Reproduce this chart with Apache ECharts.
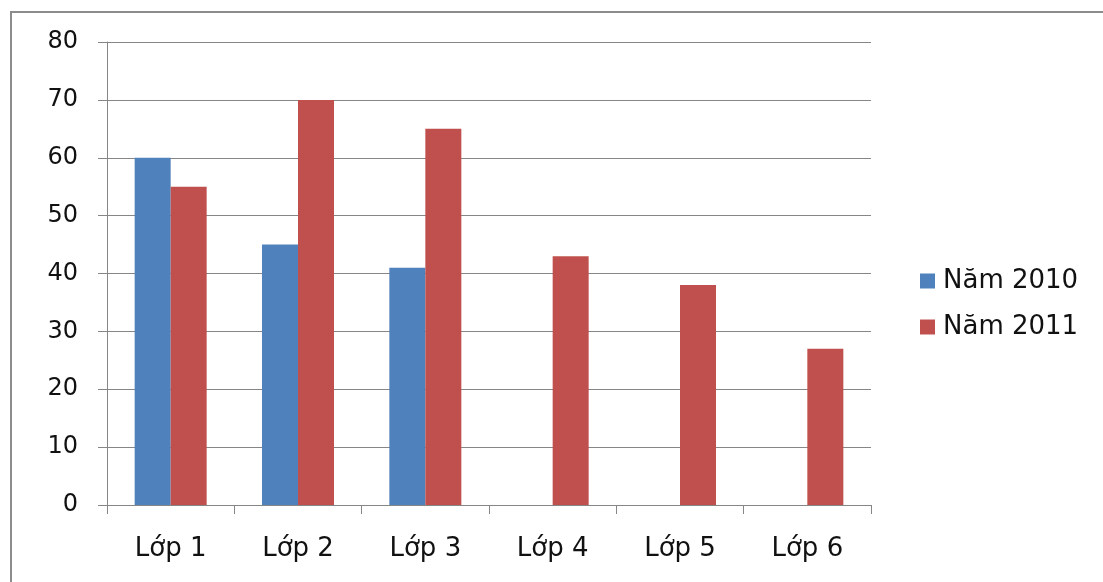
<!DOCTYPE html>
<html>
<head>
<meta charset="utf-8">
<script src="https://cdn.jsdelivr.net/npm/echarts@6/dist/echarts.min.js"></script>
<style>
  html, body { margin: 0; padding: 0; background: #fff; }
  #chart { width: 1103px; height: 582px; }
</style>
</head>
<body>
<div id="chart"></div>
<script>
// Class categories and enrolment per year
const categories = ['Lớp 1', 'Lớp 2', 'Lớp 3', 'Lớp 4', 'Lớp 5', 'Lớp 6'];
const seriesNames = ['Năm 2010', 'Năm 2011'];
const values2010 = [60, 45, 41, null, null, null];
const values2011 = [55, 70, 65, 43, 38, 27];

const font = '"DejaVu Sans", Verdana, sans-serif';

const chart = echarts.init(document.getElementById('chart'), null, { renderer: 'canvas' });
chart.setOption({
  animation: false,
  backgroundColor: '#ffffff',
  textStyle: { fontFamily: font },
  graphic: [{
    type: 'rect',
    shape: { x: 11, y: 12, width: 1110, height: 590 },
    style: { fill: 'none', stroke: '#8c8c8c', lineWidth: 2 },
    silent: true
  }],
  grid: { left: 107, right: 232, top: 42, bottom: 77 },
  legend: {
    orient: 'vertical',
    left: 915,
    top: 263,
    itemWidth: 15,
    itemHeight: 15,
    itemGap: 20,
    icon: 'rect',
    textStyle: { fontFamily: font, fontSize: 26, color: '#111', padding: [0, 0, 0, 3] },
    data: seriesNames
  },
  xAxis: {
    type: 'category',
    data: categories,
    axisLine: { lineStyle: { color: '#868686', width: 1 } },
    axisTick: { show: true, length: 9, lineStyle: { color: '#868686' } },
    axisLabel: { fontFamily: font, fontSize: 26, color: '#111', margin: 31 },
    splitLine: { show: false }
  },
  yAxis: {
    type: 'value',
    min: 0,
    max: 80,
    interval: 10,
    axisLine: { show: true, lineStyle: { color: '#868686', width: 1 } },
    axisTick: { show: true, length: 9, lineStyle: { color: '#868686' } },
    axisLabel: { fontFamily: font, fontSize: 24, color: '#111', margin: 29 },
    splitLine: { show: true, lineStyle: { color: '#868686', width: 1 } }
  },
  series: [
    {
      name: seriesNames[0],
      type: 'bar',
      data: values2010,
      barWidth: 36,
      barGap: '0%',
      itemStyle: { color: '#4F81BD' }
    },
    {
      name: seriesNames[1],
      type: 'bar',
      data: values2011,
      barWidth: 36,
      barGap: '0%',
      itemStyle: { color: '#C0504D' }
    }
  ]
});
</script>
</body>
</html>
